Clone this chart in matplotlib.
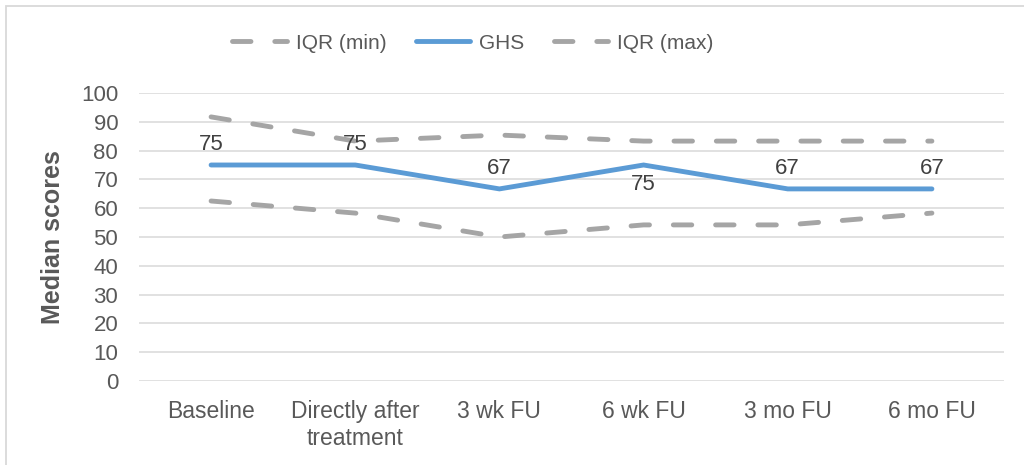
import matplotlib.pyplot as plt
from matplotlib.patches import Rectangle

plt.rcParams['font.family'] = ['Liberation Sans', 'DejaVu Sans']

# median GHS scores with interquartile range at each time point
timepoints = ['Baseline', 'Directly after\ntreatment', '3 wk FU', '6 wk FU', '3 mo FU', '6 mo FU']
ghs = [75, 75, 66.7, 75, 66.7, 66.7]
iqr_min = [62.5, 58.3, 50, 54.2, 54.2, 58.3]
iqr_max = [91.7, 83.3, 85.4, 83.3, 83.3, 83.3]
ghs_labels = ['75', '75', '67', '75', '67', '67']
label_below = [False, False, False, True, False, False]

blue = '#5B9BD5'
grey = '#A5A5A5'
text_col = '#595959'

W, H = 1024, 465
fig = plt.figure(figsize=(W / 100, H / 100), dpi=100)
ax = fig.add_axes([139 / W, 84 / H, 865 / W, 288 / H])

x = list(range(len(timepoints)))
lw = 3.5
dash = (3.8, 4.9)

ax.plot(x, iqr_min, color=grey, lw=lw, dashes=dash, dash_capstyle='round', label='IQR (min)')
ax.plot(x, ghs, color=blue, lw=lw, solid_capstyle='round', solid_joinstyle='miter', label='GHS')
ax.plot(x, iqr_max, color=grey, lw=lw, dashes=dash, dash_capstyle='round', label='IQR (max)')

for xi, yi, lab, below in zip(x, ghs, ghs_labels, label_below):
    ax.annotate(lab, (xi, yi), xytext=(0, -14 if below else 15), textcoords='offset points',
                ha='center', va='center', fontsize=16, color='#404040')

ax.set_xlim(-0.5, len(timepoints) - 0.5)
ax.set_ylim(0, 100)
ax.set_yticks(range(0, 101, 10))
ax.set_xticks(x)
ax.set_xticklabels(timepoints, fontsize=16.5, color=text_col, linespacing=1.2, va='top')
ax.tick_params(axis='y', length=0, pad=15, labelsize=16, labelcolor=text_col)
ax.tick_params(axis='x', length=0, pad=14)
ax.grid(axis='y', color='#D9D9D9', lw=1.1)
ax.set_axisbelow(True)
for s in ax.spines.values():
    s.set_visible(False)

ax.set_ylabel('Median scores', fontsize=18, fontweight='bold', color=text_col)
ax.yaxis.set_label_coords(-0.0855, 0.5)

fig.legend(loc='center', bbox_to_anchor=(473 / W, 1 - 43 / H), ncol=3, frameon=False,
           fontsize=15, handlelength=2.6, handletextpad=0.45, columnspacing=1.4,
           labelcolor=text_col)

# chart area border
fig.patches.append(Rectangle((6 / W, -0.1), 1.2, 1 - 6 / H + 0.1, transform=fig.transFigure,
                             fill=False, edgecolor='#D9D9D9', lw=1.3))

fig.savefig('out.png', dpi=100)
